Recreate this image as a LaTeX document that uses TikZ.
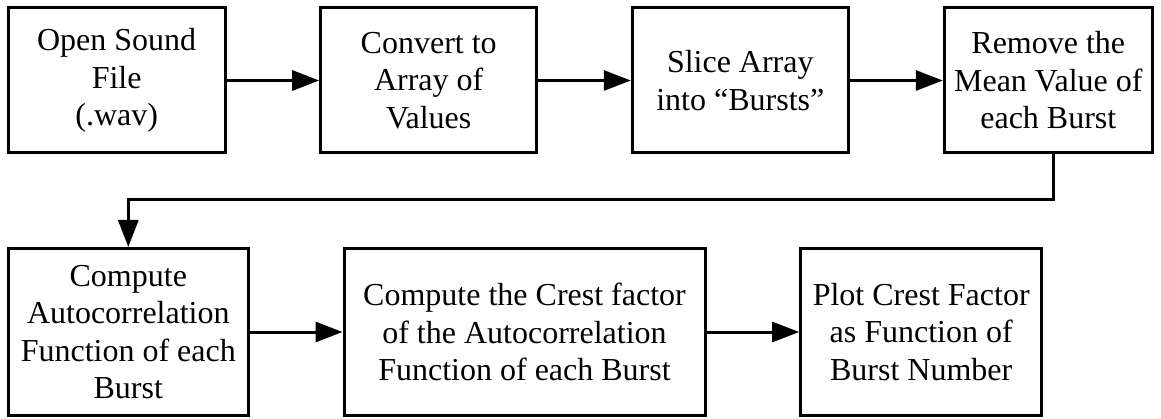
\documentclass[tikz,border=0pt]{standalone}
\usepackage{fontspec}
\setmainfont{Liberation Serif}
\usetikzlibrary{arrows.meta}
\tikzset{
  block/.style={draw,line width=3pt,align=center,inner sep=0pt,
    font=\fontsize{32}{37.5}\selectfont},
  flow/.style={line width=3pt,-{Triangle[length=27pt,width=20pt]}}
}
\begin{document}
\begin{tikzpicture}[x=1pt,y=1pt]
\useasboundingbox (0,0) rectangle (1161,418);
\node[block,minimum width=216.7pt,minimum height=145pt] (open) at (116.7,337.5) {Open Sound\\File\\(.wav)};
\node[block,minimum width=216pt,minimum height=145pt] (convert) at (428.7,337.5) {Convert to\\Array of\\Values};
\node[block,minimum width=216pt,minimum height=145pt] (slice) at (740.3,337.5) {Slice Array\\into ``Bursts''};
\node[block,minimum width=208pt,minimum height=145pt] (mean) at (1048.3,337.5) {Remove the\\Mean Value of\\each Burst};
\node[block,minimum width=240pt,minimum height=167pt] (autocorr) at (128.3,86) {Compute\\Autocorrelation\\Function of each\\Burst};
\node[block,minimum width=361pt,minimum height=167pt] (crest) at (524.5,86) {Compute the Crest factor\\of the Autocorrelation\\Function of each Burst};
\node[block,minimum width=241pt,minimum height=167pt] (plot) at (921.2,86) {Plot Crest Factor\\as Function of\\Burst Number};
\coordinate (bend) at (1053.3,218);
\draw[flow] (open) -- (convert);
\draw[flow] (convert) -- (slice);
\draw[flow] (slice) -- (mean);
\draw[flow] (mean.south -| bend) -- (bend) -| (autocorr.north);
\draw[flow] (autocorr) -- (crest);
\draw[flow] (crest) -- (plot);
\end{tikzpicture}
\end{document}
